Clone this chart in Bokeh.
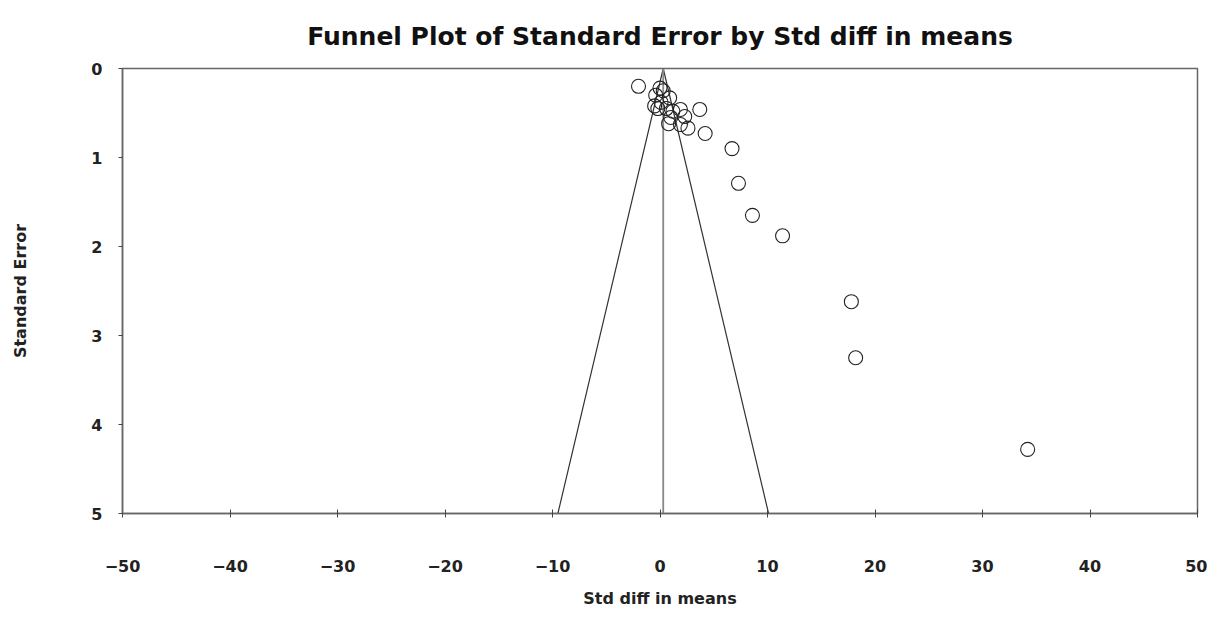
from bokeh.plotting import figure
from bokeh.models import Range1d, FixedTicker
from bokeh.embed import file_html
from bokeh.resources import INLINE

# Study effects (Std diff in means) and standard errors
std_diff = [-2.0, 0.0, 0.3, -0.4, 0.1, -0.5, -0.2, 0.9, 0.6, 1.2, 1.9, 2.3, 0.8,
            1.9, 2.6, 1.0, 3.7, 4.2, 6.7, 7.3, 8.6, 11.4, 17.8, 18.2, 34.2]
std_err = [0.20, 0.22, 0.25, 0.30, 0.38, 0.42, 0.45, 0.33, 0.45, 0.48, 0.46, 0.54, 0.62,
           0.63, 0.67, 0.55, 0.46, 0.73, 0.90, 1.29, 1.65, 1.88, 2.62, 3.25, 4.28]

pooled_effect = 0.3
z_95 = 1.96
se_max = 5.0

x_ticks = [-50, -40, -30, -20, -10, 0, 10, 20, 30, 40, 50]
y_ticks = [0, 1, 2, 3, 4, 5]

FONT = "DejaVu Sans"

p = figure(width=1207, height=612, output_backend="svg", toolbar_location=None,
           x_range=Range1d(-50, 50), y_range=Range1d(se_max, 0),
           title="Funnel Plot of Standard Error by Std diff in means",
           min_border_left=122, min_border_right=10, min_border_top=68, min_border_bottom=99)

p.title.align = "center"
p.title.text_font = FONT
p.title.text_font_size = "25px"
p.title.text_font_style = "bold"
p.title.text_color = "#111111"
p.title.standoff = 36

p.xgrid.visible = False
p.ygrid.visible = False
p.outline_line_color = "#666666"
p.outline_line_width = 1.5

for ax in (p.xaxis[0], p.yaxis[0]):
    ax.axis_line_color = "#666666"
    ax.axis_line_width = 1.5
    ax.major_tick_line_color = "#444444"
    ax.minor_tick_line_color = None
    ax.major_label_text_font = FONT
    ax.major_label_text_font_size = "16px"
    ax.major_label_text_font_style = "bold"
    ax.major_label_text_color = "#222222"
    ax.axis_label_text_font = FONT
    ax.axis_label_text_font_size = "16px"
    ax.axis_label_text_font_style = "bold"
    ax.axis_label_text_color = "#222222"

p.xaxis.ticker = FixedTicker(ticks=x_ticks)
p.xaxis.major_tick_in = 4
p.xaxis.major_tick_out = 4
p.xaxis.major_label_standoff = 42
p.xaxis.axis_label = "Std diff in means"
p.xaxis.axis_label_standoff = 14

p.yaxis.ticker = FixedTicker(ticks=y_ticks)
p.yaxis.major_tick_in = 0
p.yaxis.major_tick_out = 4
p.yaxis.major_label_standoff = 16
p.yaxis.axis_label = "Standard Error"
p.yaxis.axis_label_standoff = 58

# Funnel (95% pseudo confidence limits)
p.line([pooled_effect - z_95 * se_max, pooled_effect, pooled_effect + z_95 * se_max],
       [se_max, 0, se_max], line_color="#333333", line_width=1.2)
# Vertical line at pooled effect
p.line([pooled_effect, pooled_effect], [0, se_max], line_color="#888888", line_width=1.8)

p.scatter(std_diff, std_err, marker="circle", size=14, fill_alpha=0,
          line_color="#222222", line_width=1.1)

open("out.html", "w").write(file_html(p, INLINE))
